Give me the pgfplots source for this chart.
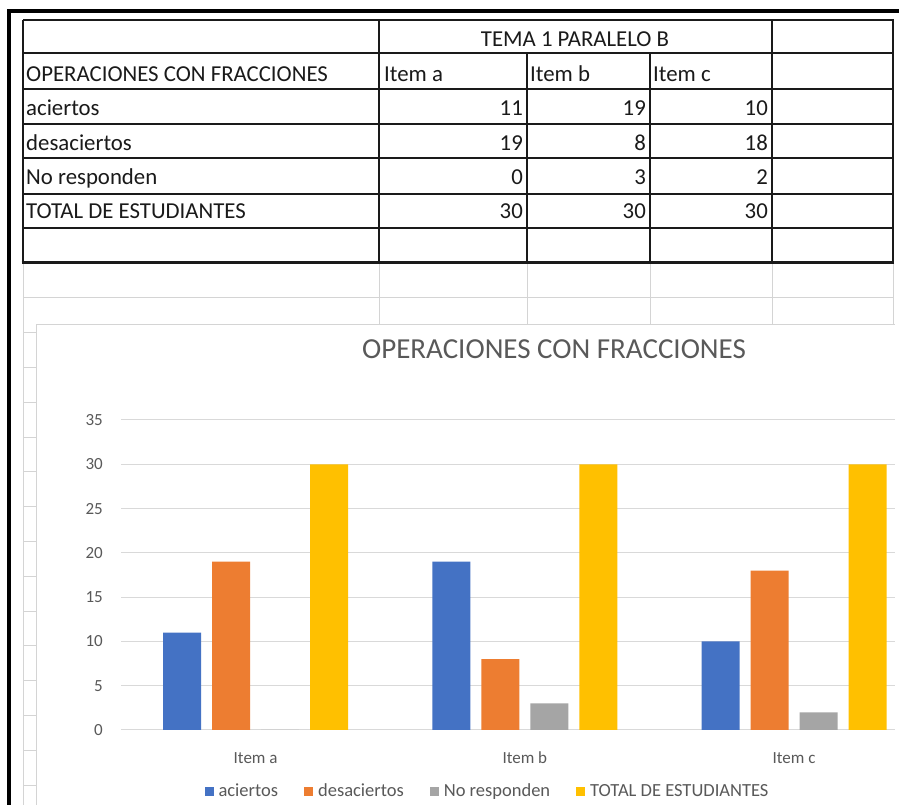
\documentclass[border=0pt]{standalone}
\usepackage{pgfplots}
\pgfplotsset{compat=1.18}
\usepackage{fontspec}
\setmainfont{Carlito}

\definecolor{xblue}{HTML}{4472C4}
\definecolor{xorange}{HTML}{ED7D31}
\definecolor{xgray}{HTML}{A5A5A5}
\definecolor{xyellow}{HTML}{FFC000}
\definecolor{txt}{HTML}{595959}
\definecolor{gridc}{HTML}{D9D9D9}
\definecolor{cellgrid}{HTML}{D4D4D4}
\definecolor{ink}{HTML}{1A1A1A}

\pgfplotsset{sq/.style={legend image code/.code={\fill[#1] (0pt,-4.5pt) rectangle (9pt,4.5pt);}}}

\newcommand{\tfont}{\fontsize{22.8}{26}\selectfont}

\begin{document}
\begin{tikzpicture}[x=1pt,y=1pt]
\useasboundingbox (0,0) rectangle (899,805);
\fill[white] (0,0) rectangle (899,805);

% sheet, in pixel coordinates from the top left
\begin{scope}[shift={(0,805)}, y=-1pt]
  % sheet grid below the table
  \draw[cellgrid, line width=1pt] (23,298) -- (893,298);
  \foreach \x in {379,527,650,772,893}
    \draw[cellgrid, line width=1pt] (\x,263) -- (\x,325);
  \draw[cellgrid, line width=1pt] (23,263) -- (23,805);
  \foreach \k in {1,...,14}
    \draw[cellgrid, line width=1pt] (23,298+34.8*\k) -- (36,298+34.8*\k);
  % chart area border
  \draw[cellgrid, line width=1pt] (36,805) -- (36,325) -- (895,325);

  % table
  \foreach \y in {20,53,89,124,158,194,228}
    \draw[ink, line width=1.3pt] (23,\y) -- (893,\y);
  \draw[ink, line width=1.3pt] (23,20) -- (23,263);
  \draw[ink, line width=1.3pt] (379,20) -- (379,263);
  \draw[ink, line width=1.3pt] (527,53) -- (527,263);
  \draw[ink, line width=1.3pt] (650,53) -- (650,263);
  \draw[ink, line width=1.3pt] (772,20) -- (772,263);
  \draw[ink, line width=2.8pt] (893,19) -- (893,264);
  \draw[ink, line width=3pt] (21.5,263) -- (894.4,263);

  % outer frame
  \draw[black, line width=3.5pt] (8.75,805) -- (8.75,11) -- (899,11);

  % table text
  \begin{scope}[every node/.style={inner sep=0pt, text=ink, font=\tfont}]
    \node[anchor=base] at (575,47) {TEMA 1 PARALELO B};
    \node[anchor=base west] at (26,82) {OPERACIONES CON FRACCIONES};
    \node[anchor=base west] at (384,82) {Item a};
    \node[anchor=base west] at (530,82) {Item b};
    \node[anchor=base west] at (653,82) {Item c};
    \node[anchor=base west] at (26,116) {aciertos};
    \node[anchor=base west] at (26,151) {desaciertos};
    \node[anchor=base west] at (26,185) {No responden};
    \node[anchor=base west] at (26,219) {TOTAL DE ESTUDIANTES};
    \node[anchor=base east] at (523,116) {11};
    \node[anchor=base east] at (646,116) {19};
    \node[anchor=base east] at (768,116) {10};
    \node[anchor=base east] at (523,151) {19};
    \node[anchor=base east] at (646,151) {8};
    \node[anchor=base east] at (768,151) {18};
    \node[anchor=base east] at (523,185) {0};
    \node[anchor=base east] at (646,185) {3};
    \node[anchor=base east] at (768,185) {2};
    \node[anchor=base east] at (523,219) {30};
    \node[anchor=base east] at (646,219) {30};
    \node[anchor=base east] at (768,219) {30};
  \end{scope}

  % chart title
  \node[anchor=base, inner sep=0pt, text=txt, font=\fontsize{29}{33}\selectfont]
    at (554,359) {OPERACIONES CON FRACCIONES};
\end{scope}

\begin{axis}[
  at={(121pt,75pt)}, anchor=south west,
  scale only axis, width=774pt, height=310pt,
  xmin=-0.5, xmax=2.375, ymin=0, ymax=35,
  ybar, bar width=0.141,
  axis line style={draw=none},
  tick style={draw=none}, major tick length=0pt,
  ytick={0,5,...,35},
  ymajorgrids, grid style={gridc, line width=1pt},
  xtick={0,1,2}, xticklabels={Item a, Item b, Item c},
  /pgf/number format/assume math mode=true,
  ticklabel style={text=txt, font=\fontsize{17}{20}\selectfont},
  yticklabel style={anchor=east, inner sep=0pt, xshift=-18pt},
  xticklabel style={anchor=base, inner sep=0pt, yshift=-34pt},
  legend columns=-1,
  legend style={at={(0.4735,-0.197)}, anchor=center, draw=none, fill=none,
    font=\fontsize{18.5}{21}\selectfont, text=txt,
    /tikz/every odd column/.append style={column sep=3pt},
    /tikz/every even column/.append style={column sep=24pt}},
  legend cell align=left,
]
\addplot[fill=xblue, draw=none, bar shift=-0.273, sq=xblue]
  coordinates {(0,11) (1,19) (2,10)};
\addplot[fill=xorange, draw=none, bar shift=-0.091, sq=xorange]
  coordinates {(0,19) (1,8) (2,18)};
\addplot[fill=xgray, draw=none, bar shift=0.091, sq=xgray]
  coordinates {(0,0) (1,3) (2,2)};
\addplot[fill=xyellow, draw=none, bar shift=0.273, sq=xyellow]
  coordinates {(0,30) (1,30) (2,30)};
\legend{aciertos, desaciertos, No responden, TOTAL DE ESTUDIANTES}
\end{axis}
\end{tikzpicture}
\end{document}
